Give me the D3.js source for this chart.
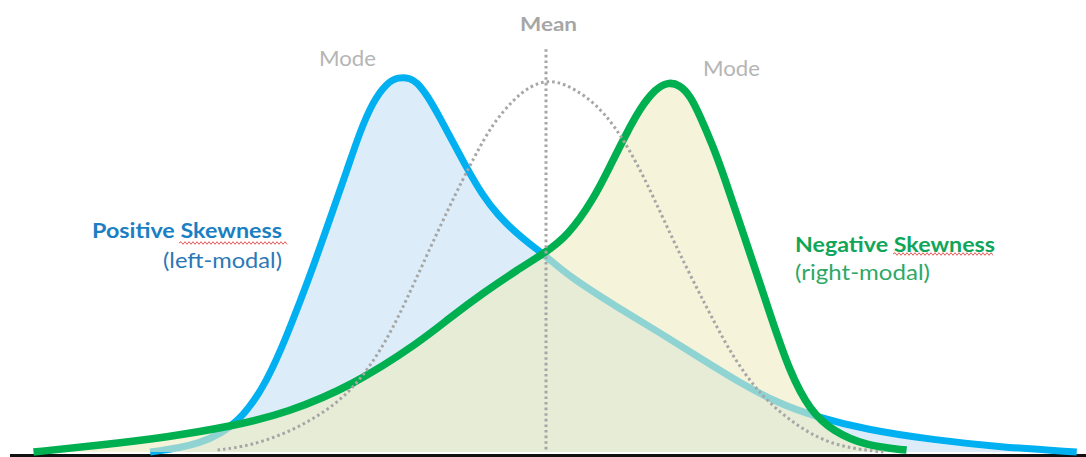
<!DOCTYPE html>
<html><head><meta charset="utf-8">
<script src="https://cdn.jsdelivr.net/npm/d3@7"></script>
<style>body{margin:0;background:#fff}svg{display:block}</style>
</head><body><svg id="c" width="1086" height="457"></svg>
<script>
// ---- data (x in standard-deviation units from the mean, y = relative density 0..100) ----
const positiveX = [-3.70,-3.23,-2.86,-2.60,-2.42,-2.30,-2.18,-1.99,-1.86,-1.74,-1.62,-1.49,-1.38,-1.27,-1.21,-1.11,-0.99,-0.87,-0.74,-0.59,-0.45,-0.29,-0.15,-0.01,0.22,0.66,1.07,1.44,1.81,2.19,2.50,3.00,3.62,4.24,4.96];
const positiveY = [0,1.8,7.6,18.9,30.8,39.5,48.4,63.7,74.2,84.2,92.1,97.1,98.7,98.4,97.4,93.9,87.9,81.6,74.7,67.4,62.4,57.9,54.7,51.8,46.1,38.2,31.3,24.7,18.2,12.6,9.5,5.8,3.2,1.3,0];

const negativeX = [-4.79,-4.17,-3.54,-2.93,-2.42,-1.80,-1.18,-0.90,-0.59,-0.27,-0.01,0.20,0.44,0.60,0.74,0.88,1.02,1.14,1.25,1.35,1.44,1.56,1.65,1.88,2.09,2.28,2.47,2.68,2.99,3.37];
const negativeY = [0,1.8,3.9,6.8,10.3,17.6,28.9,35.3,41.8,47.9,52.4,56.8,66.3,75.3,83.2,90.5,95.5,97.4,96.6,93.7,88.4,80.5,73.7,54.5,36.6,20.8,10.8,5.5,1.6,0.5];

const normalX = [-3.07,-2.77,-2.42,-2.11,-1.80,-1.49,-1.24,-0.90,-0.66,-0.50,-0.31,-0.15,0.02,0.18,0.36,0.55,0.74,0.93,1.11,1.30,1.49,1.67,1.86,2.07,2.37,2.68,3.03,3.17];
const normalY = [0.5,1.6,5.0,9.7,16.3,28.9,43.9,65.0,78.2,86.3,92.6,96.3,97.9,96.8,93.9,89.2,81.6,71.6,60.5,49.2,38.7,28.9,20.3,13.2,6.3,1.8,0.3,0];

const meanValue = 0;
const meanTop = 106;
const labels = {
  mean: "Mean", mode: "Mode",
  posTitle: "Positive Skewness", posSub: "(left-modal)",
  negTitle: "Negative Skewness", negSub: "(right-modal)"
};

// ---- drawing ----
const svg = d3.select("#c");
const x = d3.scaleLinear().domain([-5, 5]).range([11, 1081]);
const y = d3.scaleLinear().domain([0, 100]).range([452, 72]);

const pos = positiveX.map((v, i) => [v, positiveY[i]]);
const neg = negativeX.map((v, i) => [v, negativeY[i]]);
const nor = normalX.map((v, i) => [v, normalY[i]]);

const curve = d3.curveBasis;
const line = d3.line().x(d => x(d[0])).y(d => y(d[1])).curve(curve);
const area = d3.area().x(d => x(d[0])).y0(y(0)).y1(d => y(d[1])).curve(curve);

// baseline
svg.append("line").attr("x1", 10).attr("x2", 1086).attr("y1", 455.5).attr("y2", 455.5)
  .attr("stroke", "#111").attr("stroke-width", 3);

// positive skew (blue)
svg.append("path").datum(pos).attr("d", area).attr("fill", "#dcedf9");
svg.append("path").datum(pos).attr("d", line).attr("fill", "none")
  .attr("stroke", "#00b0f0").attr("stroke-width", 7);

// negative skew (green) with translucent fill
svg.append("path").datum(neg).attr("d", area).attr("fill", "rgb(238,235,192)").attr("fill-opacity", 0.6);
svg.append("path").datum(neg).attr("d", line).attr("fill", "none")
  .attr("stroke", "#00b050").attr("stroke-width", 7.5);

// normal dotted curve
svg.append("path").datum(nor).attr("d", line).attr("fill", "none")
  .attr("stroke", "#a6a6a6").attr("stroke-width", 3).attr("stroke-dasharray", "2.6 3");

// mean line
svg.append("line").attr("x1", x(meanValue)).attr("x2", x(meanValue))
  .attr("y1", y(meanTop)).attr("y2", y(0))
  .attr("stroke", "#a6a6a6").attr("stroke-width", 3).attr("stroke-dasharray", "2.6 3");

// text
const font = "Lato, 'Open Sans', sans-serif";
function txt(s, px, py, opt) {
  const t = svg.append("text").attr("x", px).attr("y", py).text(s)
    .attr("font-family", font).attr("font-size", opt.size)
    .attr("font-weight", opt.bold ? 700 : 400).attr("fill", opt.color);
  if (opt.len) t.attr("textLength", opt.len).attr("lengthAdjust", "spacingAndGlyphs");
  return t;
}
txt(labels.mean, 520, 31, {size: 19, bold: true, color: "#a6a6a6", len: 57});
txt(labels.mode, 319, 66, {size: 22, color: "#b5b5b5", len: 57});
txt(labels.mode, 703, 76, {size: 22, color: "#b5b5b5", len: 57});
txt(labels.posTitle, 92, 238, {size: 21, bold: true, color: "#1a7fc3", len: 190});
txt(labels.posSub, 163, 268, {size: 22, color: "#2b78b6", len: 119});
txt(labels.negTitle, 795, 252, {size: 21, bold: true, color: "#0fa65a", len: 200});
txt(labels.negSub, 795, 280, {size: 22, color: "#2ea866", len: 135});

// spell-check style wavy underlines
function wavy(x0, x1, yy) {
  const p = d3.path();
  p.moveTo(x0, yy);
  let up = true;
  for (let xx = x0 + 2; xx <= x1; xx += 2) { p.lineTo(xx, yy + (up ? -1.3 : 1.3)); up = !up; }
  svg.append("path").attr("d", p.toString()).attr("fill", "none")
    .attr("stroke", "#e04848").attr("stroke-width", 0.9);
}
wavy(179, 288, 243);
wavy(893, 993, 254);
</script></body></html>
